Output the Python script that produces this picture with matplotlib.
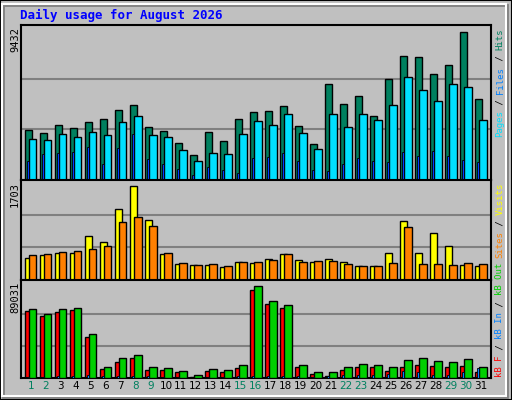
import matplotlib
matplotlib.use("Agg")
import matplotlib.pyplot as plt
from matplotlib.patches import Rectangle
import numpy as np

days = list(range(1, 32))
weekend = [1, 2, 8, 9, 15, 16, 22, 23, 29, 30]
hits = [3084, 2898, 3394, 3208, 3580, 3766, 4325, 4635, 3270, 3022, 2277, 1533, 2960, 2401, 3766, 4201,
        4263, 4573, 3332, 2215, 5938, 4697, 5194, 3953, 6248, 7676, 7614, 6559, 7117, 9165, 5007]
files = [2525, 2463, 2836, 2650, 2960, 2774, 3580, 3953, 2774, 2650, 1843, 1160, 1657, 1595, 2836, 3642,
         3394, 4077, 2898, 1905, 4077, 3270, 4077, 3704, 4635, 6373, 5566, 4883, 5938, 5752, 3704]
pages = [1160, 1595, 1657, 1719, 2029, 974, 1967, 2836, 1284, 974, 664, 292, 788, 602, 416, 1346,
         1409, 1657, 1160, 602, 540, 974, 1346, 1160, 1098, 1719, 1471, 1781, 1471, 1222, 1098]
visits = [389, 430, 465, 465, 766, 660, 1225, 1632, 1048, 448, 271, 253, 253, 218, 306, 289,
          359, 448, 342, 306, 359, 306, 236, 236, 465, 1031, 465, 819, 589, 253, 236]
sites = [430, 448, 483, 501, 536, 589, 1013, 1101, 942, 465, 289, 253, 271, 236, 306, 306,
         342, 448, 306, 324, 324, 271, 236, 236, 289, 925, 271, 271, 253, 289, 271]
kb_f = [62168, 57482, 61230, 63105, 37800, 8747, 14370, 18119, 7810, 7810, 5936, 1250, 6873, 5936, 9684, 81849,
        68728, 64979, 10622, 4061, 2187, 7810, 10622, 10622, 6873, 10622, 12496, 11559, 10622, 11559, 5936]
kb_out = [64042, 59356, 64042, 64979, 40612, 10622, 18119, 20931, 10622, 9684, 6873, 3124, 8747, 7810, 12496, 85598,
          71540, 67791, 12496, 5936, 5936, 10622, 13433, 12496, 10622, 16245, 18119, 15308, 14370, 17182, 10622]
kb_in = [1250, 1000, 1500, 1500, 2500, 1500, 1500, 1800, 1500, 1200, 900, 0, 1000, 900, 1500, 1800,
         1800, 1800, 1800, 900, 2187, 3124, 3124, 3124, 4061, 6873, 5936, 3124, 3124, 5936, 9684]
max_top, max_mid, max_bot = 9432, 1703, 89031

W, H = 512, 400
fig = plt.figure(figsize=(5.12, 4.0), dpi=100)
fig.patch.set_facecolor("#C0C0C0")
fig.add_artist(Rectangle((0, 0), 1, 1, transform=fig.transFigure, fill=False, ec="black", lw=1.5))
fig.add_artist(Rectangle((3/W, 3/H), 1-8/W, 1-8/H, transform=fig.transFigure, fill=False, ec="#808080", lw=2))
fig.add_artist(Rectangle((2/W, 4/H), 1-8/W, 1-8/H, transform=fig.transFigure, fill=False, ec="white", lw=1.5))

def ax_px(x0, y0, x1, y1):
    return fig.add_axes([x0/W, 1-y1/H, (x1-x0)/W, (y1-y0)/H])

x = np.array(days)
XL = (0.31, 31.67)

def setup(ax, ymax):
    ax.set_facecolor("#C0C0C0")
    ax.set_xlim(*XL)
    ax.set_ylim(0, ymax * 1.02)
    for g in (ymax/3, 2*ymax/3):
        ax.axhline(g, color="#808080", lw=1.5, zorder=0)
    ax.set_xticks([]); ax.set_yticks([])
    for s in ax.spines.values():
        s.set_color("black"); s.set_linewidth(1.5)

a1 = ax_px(20.5, 25, 491, 180)
setup(a1, max_top)
a1.bar(x - 0.147, hits, 0.47, color="#00805F", ec="black", lw=1, zorder=2)
a1.bar(x + 0.12, files, 0.51, color="#00E0FF", ec="black", lw=1, zorder=3)
a1.bar(x - 0.18, pages, 0.13, color="#0040FF", ec="black", lw=0.6, zorder=4)

a2 = ax_px(20.5, 180, 491, 280)
setup(a2, max_mid)
a2.bar(x - 0.147, visits, 0.47, color="#FFFF00", ec="black", lw=1, zorder=2)
a2.bar(x + 0.12, sites, 0.51, color="#FF8000", ec="black", lw=1, zorder=3)

a3 = ax_px(20.5, 280, 491, 378)
setup(a3, max_bot)
a3.bar(x - 0.147, kb_f, 0.47, color="#FF0000", ec="black", lw=1, zorder=2)
a3.bar(x + 0.12, kb_out, 0.51, color="#00D000", ec="black", lw=1, zorder=3)
a3.bar(x - 0.18, kb_in, 0.13, color="#0080FF", ec="black", lw=0.6, zorder=4)

for d in days:
    a3.text(d, -0.085, str(d), transform=a3.get_xaxis_transform(), ha="center", va="center",
            fontsize=7.5, color="#00805F" if d in weekend else "black")

fig.text(20/W, 1-15/H, "Daily usage for August 2026", color="#0000FF", fontsize=9,
         family="DejaVu Sans Mono", weight="bold", va="center", ha="left")
for lab, ytop in (("9432", 27), ("1703", 182), ("89031", 282)):
    fig.text(15/W, 1-ytop/H, lab, rotation=90, ha="center", va="top", fontsize=7.5, family="DejaVu Sans Mono")

FS = 6.5
STEP = 0.602 * FS * 100 / 72

def side(segs, ybottom):
    y = ybottom
    for txt, col in segs:
        fig.text(500/W, 1-y/H, txt, rotation=90, ha="center", va="bottom", color=col,
                 fontsize=FS, family="DejaVu Sans Mono")
        y -= STEP * len(txt)

side([("Pages", "#00E0FF"), (" / ", "black"), ("Files", "#0080FF"), (" / ", "black"), ("Hits", "#00805F")], 137)
side([("Sites", "#FF8000"), (" / ", "black"), ("Visits", "#FFFF00")], 258)
side([("kB F", "#FF0000"), (" / ", "black"), ("kB In", "#0080FF"), (" / ", "black"), ("kB Out", "#00D000")], 377)

fig.savefig("out.png", dpi=100, facecolor=fig.get_facecolor())
